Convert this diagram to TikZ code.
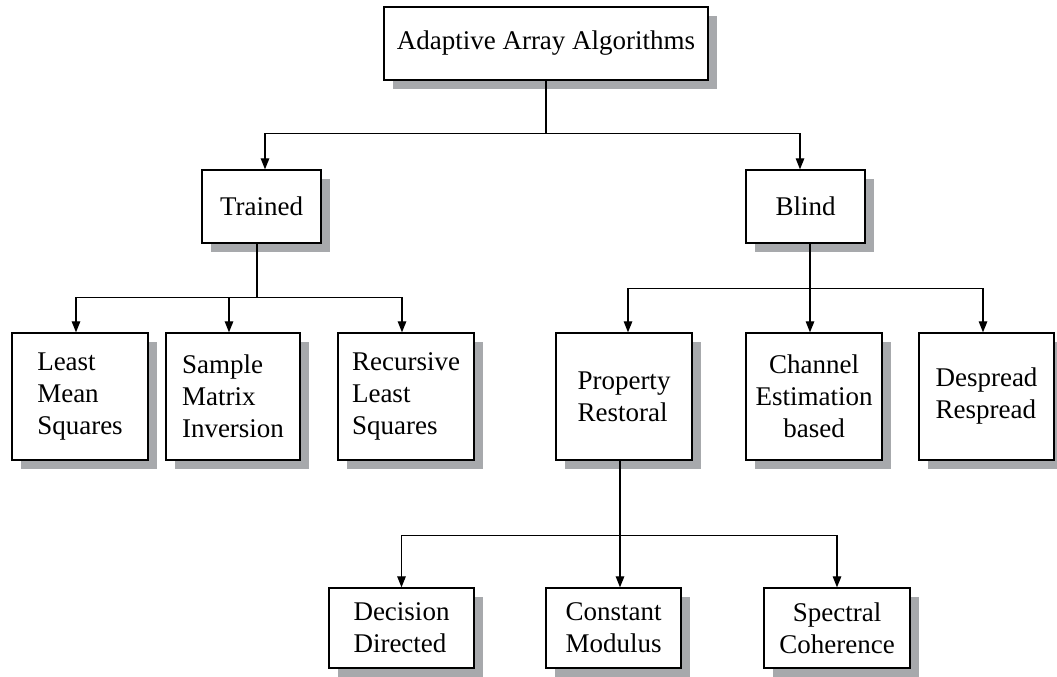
\documentclass[tikz,border=0pt]{standalone}
\usepackage{fontspec}
\setmainfont{Liberation Serif}
\usetikzlibrary{arrows.meta,shadows}
\definecolor{shadowgray}{RGB}{167,169,172}
\begin{document}
\begin{tikzpicture}[x=1pt,y=-1pt,
  box/.style={draw=black, line width=1.3pt, fill=white, align=left,
    inner sep=0pt, font=\fontsize{27}{32}\selectfont,
    drop shadow={shadow xshift=9pt, shadow yshift=-9pt, fill=shadowgray, opacity=1}},
  cbox/.style={box, align=center},
  link/.style={line width=1.2pt},
  arr/.style={link, -{Triangle[length=11pt,width=8.5pt]}}]
\useasboundingbox (0,0) rectangle (1057,677);

% level 0
\node[cbox, minimum width=324pt, minimum height=73pt] (top) at (546,43.5) {Adaptive Array Algorithms};

% level 1
\node[cbox, minimum width=119pt, minimum height=73pt] (trained) at (261.5,206.5) {Trained};
\node[cbox, minimum width=119pt, minimum height=73pt] (blind) at (805.5,206.5) {Blind};

% level 2
\node[box, minimum width=136pt, minimum height=127pt] (lms) at (80,396.5) {Least\\Mean\\Squares};
\node[box, minimum width=134pt, minimum height=127pt] (smi) at (233,396.5) {Sample\\Matrix\\Inversion};
\node[box, minimum width=136pt, minimum height=127pt] (rls) at (406,396.5) {Recursive\\Least\\Squares};
\node[box, minimum width=136pt, minimum height=127pt] (pr) at (624,396.5) {Property\\Restoral};
\node[cbox, minimum width=136pt, minimum height=127pt] (ceb) at (814,396.5) {Channel\\Estimation\\based};
\node[box, minimum width=135pt, minimum height=127pt] (dr) at (986.5,396.5) {Despread\\Respread};

% level 3
\node[box, minimum width=145pt, minimum height=80pt] (dd) at (401.5,628) {Decision\\Directed};
\node[box, minimum width=135pt, minimum height=80pt] (cm) at (613.5,628) {Constant\\Modulus};
\node[cbox, minimum width=146pt, minimum height=80pt] (sc) at (837,628) {Spectral\\Coherence};

% root -> trained / blind
\draw[link] (top.south) -- ++(0,53) coordinate (j1);
\draw[arr] (j1) -| ([xshift=3.5pt]trained.north);
\draw[arr] (j1) -| ([xshift=-5.5pt]blind.north);

% trained -> its three methods
\draw[link] ([xshift=-4.5pt]trained.south) -- ++(0,54) coordinate (j2);
\draw[arr] (j2) -| ([xshift=-4pt]lms.north);
\draw[arr] (j2) -| ([xshift=-4pt]smi.north);
\draw[arr] (j2) -| ([xshift=-4pt]rls.north);

% blind -> its three methods
\draw[link] ([xshift=4.5pt]blind.south) -- ++(0,45) coordinate (j3);
\draw[arr] (j3) -| ([xshift=4pt]pr.north);
\draw[arr] (j3) -| ([xshift=-4pt]ceb.north);
\draw[arr] (j3) -| ([xshift=-3.5pt]dr.north);

% property restoral -> its three methods
\draw[arr] ([xshift=-4pt]pr.south) -- ([xshift=6.5pt]cm.north);
\path ([xshift=-4pt]pr.south) -- ++(0,75) coordinate (j4);
\draw[arr] (j4) -| (dd.north);
\draw[arr] (j4) -| (sc.north);
\end{tikzpicture}
\end{document}
